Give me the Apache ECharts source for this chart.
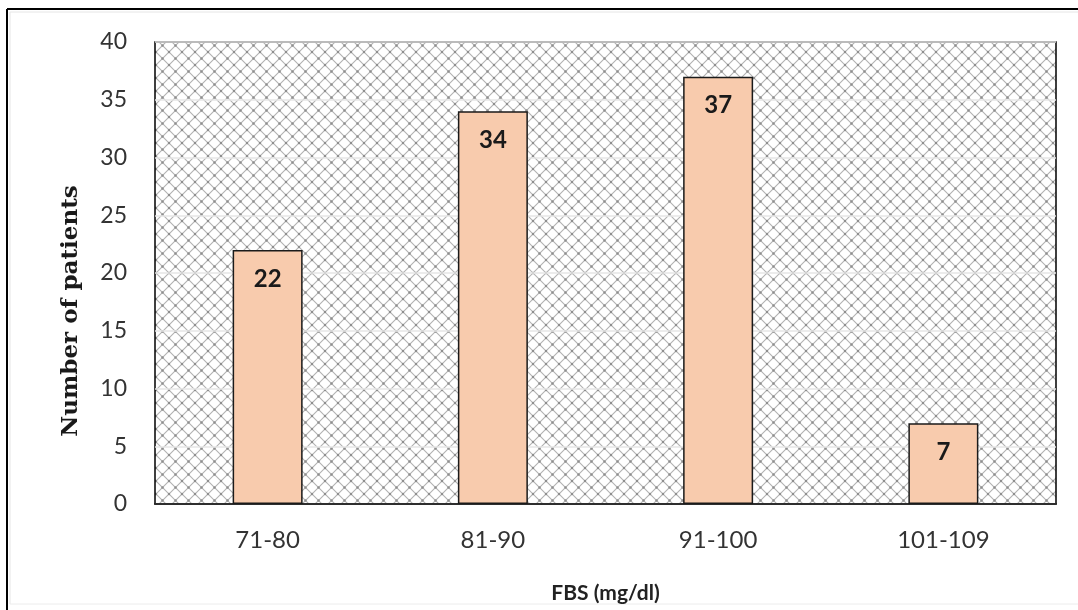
<!DOCTYPE html>
<html>
<head>
<meta charset="utf-8">
<script src="https://cdn.jsdelivr.net/npm/echarts@6/dist/echarts.min.js"></script>
<style>
  html, body { margin: 0; padding: 0; background: #fff; }
  #chart { width: 1078px; height: 610px; }
</style>
</head>
<body>
<div id="chart"></div>
<script>
// FBS ranges and patient counts
const categories = ['71-80', '81-90', '91-100', '101-109'];
const patients = [22, 34, 37, 7];
const yTicks = [0, 5, 10, 15, 20, 25, 30, 35, 40];

// Diamond lattice used as the plot-area fill
function latticeTile() {
  const s = 13;
  const c = document.createElement('canvas');
  c.width = s; c.height = s;
  const ctx = c.getContext('2d');
  ctx.fillStyle = '#ffffff';
  ctx.fillRect(0, 0, s, s);
  ctx.strokeStyle = '#b2b2b2';
  ctx.lineWidth = 1.1;
  ctx.beginPath();
  ctx.moveTo(0, 0); ctx.lineTo(s, s);
  ctx.moveTo(s, 0); ctx.lineTo(0, s);
  ctx.stroke();
  // darker specks where the lines cross
  ctx.fillStyle = '#8e8e8e';
  const h = s / 2;
  [[h, h], [0, 0], [s, 0], [0, s], [s, s]].forEach(function (p) {
    ctx.beginPath();
    ctx.arc(p[0], p[1], 1.2, 0, Math.PI * 2);
    ctx.fill();
  });
  return c;
}

const chart = echarts.init(document.getElementById('chart'));
const sans = 'Lato, "Open Sans", sans-serif';

chart.setOption({
  animation: false,
  backgroundColor: '#ffffff',
  grid: {
    left: 155, top: 42, width: 901, height: 462,
    show: true,
    borderColor: '#000000',
    borderWidth: 1.5,
    backgroundColor: { image: latticeTile(), repeat: 'repeat' }
  },
  xAxis: {
    type: 'category',
    data: categories,
    name: 'FBS (mg/dl)',
    nameLocation: 'middle',
    nameGap: 79,
    nameTextStyle: { fontFamily: sans, fontSize: 21, fontWeight: 'bold', color: '#222' },
    axisLine: { show: true, lineStyle: { color: '#000', width: 1.5 } },
    axisTick: { show: false },
    axisLabel: { margin: 24, fontFamily: sans, fontSize: 24, color: '#333' }
  },
  yAxis: {
    type: 'value',
    min: yTicks[0],
    max: yTicks[yTicks.length - 1],
    interval: 5,
    axisLine: { show: false },
    axisTick: { show: false },
    axisLabel: { margin: 28, fontFamily: sans, fontSize: 23, color: '#333' },
    splitLine: { show: true, lineStyle: { color: '#e6e6e6', width: 1.5 } }
  },
  series: [{
    type: 'bar',
    data: patients,
    barWidth: 70,
    itemStyle: { color: '#F8CBAD', borderColor: '#1a1a1a', borderWidth: 1.5 },
    label: {
      show: true,
      position: 'insideTop',
      distance: 17,
      fontFamily: sans,
      fontSize: 24,
      fontWeight: 'bold',
      color: '#1a1a1a'
    }
  }],
  graphic: [
    {
      type: 'text',
      x: 71, y: 311,
      rotation: Math.PI / 2,
      style: {
        text: 'Number of patients',
        fontFamily: '"DejaVu Serif", serif',
        fontSize: 23,
        fontWeight: 'bold',
        fill: '#1a1a1a',
        align: 'center',
        verticalAlign: 'middle'
      }
    },
    { type: 'line', shape: { x1: 7, y1: 9, x2: 1078, y2: 9 }, style: { stroke: '#000', lineWidth: 2 } },
    { type: 'line', shape: { x1: 7, y1: 9, x2: 7, y2: 610 }, style: { stroke: '#000', lineWidth: 2 } },
    { type: 'line', shape: { x1: 10, y1: 12, x2: 1078, y2: 12 }, style: { stroke: '#e6e6e6', lineWidth: 1 } },
    { type: 'line', shape: { x1: 10, y1: 12, x2: 10, y2: 604 }, style: { stroke: '#e6e6e6', lineWidth: 1 } },
    { type: 'line', shape: { x1: 10, y1: 604, x2: 1078, y2: 604 }, style: { stroke: '#ececec', lineWidth: 1 } }
  ]
});
</script>
</body>
</html>
